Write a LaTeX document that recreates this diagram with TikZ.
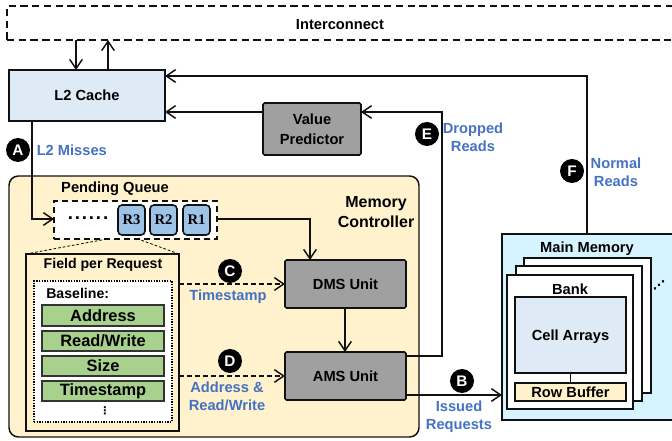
\documentclass[tikz,border=0pt]{standalone}
\usepackage{fontspec}
\setmainfont{Liberation Sans}
\newfontfamily\djv{DejaVu Sans}
\newfontfamily\tms{Liberation Serif}
\usetikzlibrary{arrows.meta,calc}
\definecolor{ctrl}{HTML}{FFF2CC}
\definecolor{cachec}{HTML}{DEEAF6}
\definecolor{unitc}{HTML}{A0A0A0}
\definecolor{reqc}{HTML}{9DC3E6}
\definecolor{greenc}{HTML}{A9D18E}
\definecolor{memc}{HTML}{D5F4FF}
\definecolor{bluet}{HTML}{4472C4}
\definecolor{linec}{HTML}{111111}
\newcommand{\bx}[7][]{\node[#2,inner sep=0pt,outer sep=0pt,minimum width={(#6-#4)*0.75pt},minimum height={(#7-#5)*0.75pt},align=center,#1] (#3) at ({(#4+#6)/2},{(#5+#7)/2})}
\tikzset{
 x=0.75pt,y=-0.75pt,
 every node/.style={font=\fontsize{11pt}{13pt}\selectfont\bfseries,text=black},
 lbl/.style={font=\fontsize{11pt}{13.5pt}\selectfont\bfseries,align=center,inner sep=0pt},
 smalllbl/.style={lbl,font=\fontsize{10.6pt}{13pt}\selectfont\bfseries},
 bluelbl/.style={lbl,text=bluet},
 ln/.style={draw=linec,line width=1.1pt},
 arr/.style={ln,-{Straight Barb[length=7pt,width=9.5pt,line width=1.1pt]}},
 darr/.style={arr,dash pattern=on 4pt off 2pt},
 dashbox/.style={draw=linec,line width=1.1pt,dash pattern=on 5.5pt off 3.3pt},
 solidbox/.style={draw=linec,line width=1.2pt},
 cache/.style={solidbox,fill=cachec},
 unitbox/.style={solidbox,fill=unitc,rounded corners=1.2pt},
 reqbox/.style={solidbox,fill=reqc,rounded corners=3pt,font=\fontsize{11pt}{12pt}\selectfont\bfseries\tms},
 field/.style={draw=black!80,line width=1pt,fill=greenc,font=\fontsize{12.3pt}{13pt}\selectfont\bfseries},
 badge/.style={circle,fill=black,inner sep=0pt,minimum size=18pt,text=white,font=\fontsize{11.5pt}{12pt}\selectfont\bfseries},
 thindash/.style={line width=0.6pt,dash pattern=on 2pt off 1.5pt},
 symb/.style={inner sep=0pt,font=\fontsize{8pt}{9pt}\selectfont\bfseries\djv},
}
\begin{document}
\begin{tikzpicture}
\useasboundingbox (0,0) rectangle (672,441);
\clip (0,0) rectangle (672,441);
% containers
\bx{dashbox}{intc}{7}{6}{675}{40}{};
\node[lbl] (intt) at (340,24.5) {Interconnect};
\bx{draw=linec,line width=1.1pt,fill=ctrl,rounded corners=7pt}{mc}{9}{176}{419}{437}{};
\bx{cache}{l2}{9}{70}{165}{121}{L2 Cache};
\bx{unitbox,font=\fontsize{11pt}{15pt}\selectfont\bfseries}{vp}{263}{103}{361}{155}{Value\\Predictor};
\node[lbl] (pq) at (115,188.5) {Pending Queue};
\node[lbl,font=\fontsize{12pt}{14.5pt}\selectfont\bfseries] (mclbl) at (376,212) {Memory\\Controller};
% queue
\bx{dashbox,fill=white,dash pattern=on 4.5pt off 3pt}{queue}{54}{201}{217}{239}{};
\node[lbl,font=\fontsize{14pt}{14pt}\selectfont\bfseries] (qdots) at (88,218) {.\kern1.4pt.\kern1.4pt.\kern1.4pt.\kern1.4pt.\kern1.4pt.};
\bx{reqbox}{rthree}{118}{205}{145}{235}{R3};
\bx{reqbox}{rtwo}{150}{205}{177}{235}{R2};
\bx{reqbox}{rone}{183}{205}{210}{235}{R1};
% field per request
\bx{solidbox,fill=ctrl}{fpr}{26}{254}{179}{431}{};
\node[smalllbl] (fprt) at (103,264.5) {Field per Request};
\bx{draw=black,fill=white,line width=1pt,dash pattern=on 1pt off 1pt}{base}{34}{281}{172}{422}{};
\node[smalllbl,anchor=west] (baselbl) at (46,293) {Baseline:};
\bx{field}{faddr}{42}{305}{164}{326}{Address};
\bx{field}{frw}{42}{331}{164}{351}{Read/Write};
\bx{field}{fsize}{42}{356}{164}{376}{Size};
\bx{field}{fts}{42}{381}{164}{401}{Timestamp};
\node[symb] (fdots) at (105,411) {⋮};
% units
\bx{unitbox}{dms}{285}{260}{406}{308}{DMS Unit};
\bx{unitbox}{ams}{285}{352}{406}{400}{AMS Unit};
% main memory
\bx{solidbox,fill=memc}{mem}{502}{234}{675}{420}{};
\node[lbl] (memt) at (587,248.5) {Main Memory};
\bx{solidbox,fill=white}{bankc}{524}{258}{651}{393}{};
\bx{solidbox,fill=white}{bankb}{516}{266}{642}{401}{};
\bx{solidbox,fill=white}{banka}{507}{275}{633}{409}{};
\node[lbl] (bankt) at (570,289) {Bank};
\bx[text depth=0pt]{solidbox,fill=cachec}{cell}{515}{297}{626}{373}{Cell Arrays};
\bx{solidbox,fill=ctrl}{rowb}{515}{383}{626}{401}{Row Buffer};
\draw[ln,line width=0.9pt] (cell.south) -- (rowb.north);
\node[symb,font=\fontsize{9pt}{10pt}\selectfont\bfseries\djv] (mdots) at (659,285) {⋰};
% connectors
\coordinate (downx) at (76,0);
\coordinate (upx) at (108,0);
\coordinate (missx) at (32,0);
\coordinate (qy) at (0,219);
\coordinate (dmsx) at (310,0);
\coordinate (unitx) at (345,0);
\coordinate (nrx) at (587,76);
\coordinate (drx) at (442,112);
\coordinate (amsupper) at (0,356);
\coordinate (amslower) at (0,395);
\coordinate (chy) at (0,284);
\coordinate (dhy) at (0,376);
\draw[arr] (intc.south -| downx) -- (l2.north -| downx);
\draw[arr] (l2.north -| upx) -- (intc.south -| upx);
\draw[arr] (l2.south -| missx) |- (queue.west |- qy);
\draw[arr] (queue.east |- qy) -| (dms.north -| dmsx);
\draw[arr] (dms.south -| unitx) -- (ams.north -| unitx);
\draw[arr] (mem.north -| nrx) -- (nrx) -- (l2.east |- nrx);
\draw[arr] (ams.east |- amsupper) -| (drx) -- (vp.east |- drx);
\draw[arr] (vp.west |- drx) -- (l2.east |- drx);
\draw[arr] (ams.east |- amslower) -- (mem.west |- amslower);
\draw[darr] (fpr.east |- chy) -- (dms.west |- chy);
\draw[darr] (fpr.east |- dhy) -- (ams.west |- dhy);
\coordinate (qa) at (107,239);
\coordinate (qb) at (138,239);
\draw[thindash] (fpr.north west) -- (qa);
\draw[thindash] (fpr.north east) -- (qb);
% labels
\node[bluelbl,anchor=west] (lmiss) at (36.5,150) {L2 Misses};
\node[bluelbl] (lts) at (228,296.5) {Timestamp};
\node[bluelbl] (laddr) at (227,396.5) {Address \&\\Read/Write};
\node[bluelbl] (lissue) at (459,417) {Issued\\Requests};
\node[bluelbl] (ldrop) at (473,137) {Dropped\\Reads};
\node[bluelbl] (lnorm) at (616,172) {Normal\\Reads};
\node[badge] (ba) at (18,150) {A};
\node[badge] (bb) at (462,381) {B};
\node[badge] (bc) at (230,271) {C};
\node[badge] (bd) at (230,361) {D};
\node[badge] (be) at (427,134) {E};
\node[badge] (bf) at (572,171) {F};
\end{tikzpicture}
\end{document}
